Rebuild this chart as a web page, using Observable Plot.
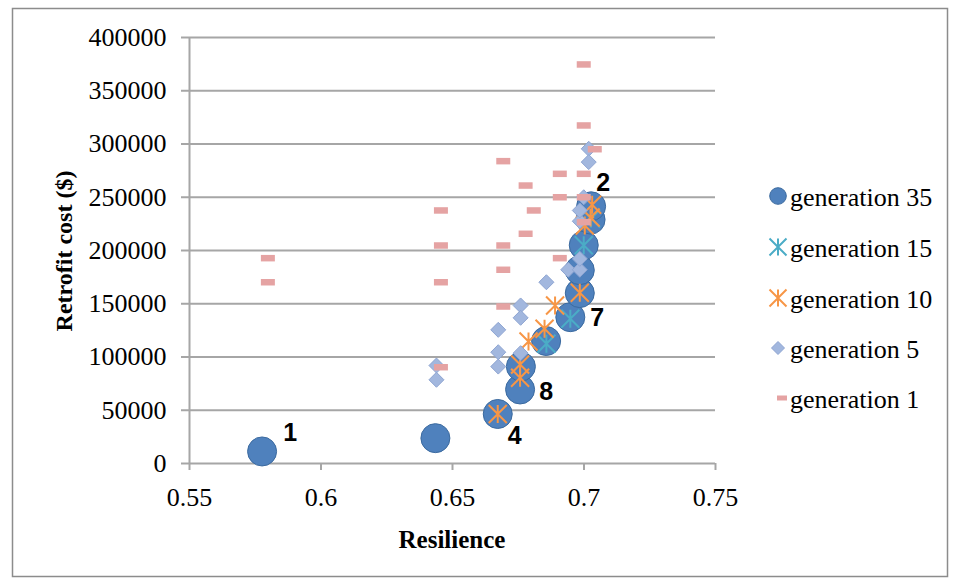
<!DOCTYPE html>
<html>
<head>
<meta charset="utf-8">
<script src="https://cdn.jsdelivr.net/npm/d3@7"></script>
<script src="https://cdn.jsdelivr.net/npm/@observablehq/plot@0.6"></script>
<style>
  html, body { margin: 0; padding: 0; background: #fff; }
  #chart { width: 958px; height: 582px; }
</style>
</head>
<body>
<div id="chart"></div>
<script>
// ---- data ----
const seriesNames = ["generation 35", "generation 15", "generation 10", "generation 5", "generation 1"];

const g35x = [0.5776, 0.6435, 0.6672, 0.6757, 0.6760, 0.6856, 0.6948, 0.6984, 0.6984, 0.6999, 0.7025, 0.7027];
const g35y = [11300, 23800, 46500, 69500, 91000, 115000, 137400, 160000, 181500, 205000, 229000, 241500];

const g15x = [0.6857, 0.6948, 0.6999, 0.7027];
const g15y = [112400, 135900, 205000, 230000];

const g10x = [0.6672, 0.6757, 0.6757, 0.6789, 0.6850, 0.6890, 0.6984, 0.7003, 0.7025, 0.7031];
const g10y = [46500, 93000, 80500, 114500, 126500, 148400, 160300, 223500, 231000, 243000];

const g5x = [0.6439, 0.6439, 0.6674, 0.6674, 0.6674, 0.6759, 0.6759, 0.6759, 0.6857, 0.6940, 0.6984, 0.6984, 0.6984, 0.6984, 0.6999, 0.7018, 0.7018];
const g5y = [92000, 78600, 125500, 104500, 91000, 148400, 136800, 103600, 170200, 181900, 181900, 192200, 227500, 237600, 250000, 295500, 283000];

const g1x = [0.5798, 0.5798, 0.6456, 0.6456, 0.6456, 0.6456, 0.6693, 0.6693, 0.6693, 0.6693, 0.6778, 0.6778, 0.6809, 0.6908, 0.6908, 0.6908, 0.6999, 0.6999, 0.6999, 0.6999, 0.6999, 0.7041];
const g1y = [192800, 170200, 237600, 204700, 170200, 90400, 283900, 204700, 181900, 147400, 261000, 215700, 237600, 272000, 250000, 192800, 374700, 317400, 272000, 250000, 226600, 295100];

const pointLabels = ["1", "4", "8", "7", "2"];
const pointLabelIndex = [0, 2, 3, 6, 11]; // index into generation 35

const xTicks = [0.55, 0.6, 0.65, 0.7, 0.75];
const yTicks = [0, 50000, 100000, 150000, 200000, 250000, 300000, 350000, 400000];

// ---- styles ----
const C35 = "#4F81BD", C35s = "#3B6A9F";
const C15 = "#4BACC6";
const C10 = "#F79646";
const C5 = "#A2B7DE", C5s = "#8EA5D2";
const C1 = "#E5A3A3";
const GRID = "#A6A6A6";

const zip = (xs, ys) => xs.map((x, i) => ({x, y: ys[i]}));
const d35 = zip(g35x, g35y), d15 = zip(g15x, g15y), d10 = zip(g10x, g10y), d5 = zip(g5x, g5y), d1 = zip(g1x, g1y);

const starSym = (r) => ({draw(ctx) {
  ctx.moveTo(0, -r); ctx.lineTo(0, r);
  ctx.moveTo(-r, -r); ctx.lineTo(r, r);
  ctx.moveTo(-r, r); ctx.lineTo(r, -r);
}});
const diamondSym = (r) => ({draw(ctx) {
  ctx.moveTo(0, -r); ctx.lineTo(r, 0); ctx.lineTo(0, r); ctx.lineTo(-r, 0); ctx.closePath();
}});
const dashSym = (w, h) => ({draw(ctx) { ctx.rect(-w / 2, -h / 2, w, h); }});

const labelOffsets = [[28, -18], [17, 22], [26, 3], [27, 1], [12, -23]];

const labelMarks = pointLabels.map((t, k) =>
  Plot.text([d35[pointLabelIndex[k]]], {
    x: "x", y: "y", text: () => t,
    dx: labelOffsets[k][0], dy: labelOffsets[k][1],
    fontFamily: "Liberation Sans", fontWeight: "bold", fontSize: 25, fill: "black",
    textAnchor: "middle", lineAnchor: "middle"
  })
);

const svg = Plot.plot({
  width: 958,
  height: 582,
  marginLeft: 189,
  marginRight: 243,
  marginTop: 37,
  marginBottom: 119,
  style: {fontFamily: "Liberation Serif", background: "white", overflow: "visible"},
  x: {domain: [0.55, 0.75], axis: null},
  y: {domain: [0, 400000], axis: null},
  marks: [
    Plot.gridY(yTicks, {stroke: GRID, strokeOpacity: 1, strokeWidth: 2}),
    Plot.ruleX([0.55], {stroke: GRID, strokeWidth: 2}),
    Plot.axisY({ticks: yTicks, tickSize: 8, tickPadding: 15, stroke: GRID, strokeWidth: 2,
      tickFormat: d => String(d), fontSize: 26, fill: "black", label: null}),
    Plot.axisX({ticks: xTicks, tickSize: 7, tickPadding: 17, stroke: GRID, strokeWidth: 2,
      tickFormat: d => String(+d.toFixed(2)), fontSize: 26, fill: "black", label: null}),
    Plot.dot(d35, {x: "x", y: "y", r: 14.5, fill: C35, stroke: C35s, strokeWidth: 1}),
    Plot.dot(d15, {x: "x", y: "y", symbol: starSym(9), stroke: C15, strokeWidth: 2, fill: "none"}),
    Plot.dot(d10, {x: "x", y: "y", symbol: starSym(9), stroke: C10, strokeWidth: 2, fill: "none"}),
    Plot.dot(d5, {x: "x", y: "y", symbol: diamondSym(7.5), fill: C5, stroke: C5s, strokeWidth: 1}),
    Plot.dot(d1, {x: "x", y: "y", symbol: dashSym(14, 6.5), fill: C1, stroke: "none"}),
    ...labelMarks
  ]
});

const s = d3.select(svg);

// outer chart border
s.append("rect").attr("x", 12.5).attr("y", 8.5).attr("width", 935).attr("height", 568)
  .attr("fill", "none").attr("stroke", "#8C8C8C").attr("stroke-width", 1.5);

// axis titles
s.append("text").attr("x", 452).attr("y", 539).attr("text-anchor", "middle")
  .attr("dominant-baseline", "central").attr("font-family", "Liberation Serif")
  .attr("font-weight", "bold").attr("font-size", 25).text("Resilience");
s.append("text").attr("transform", "translate(64,251) rotate(-90)").attr("text-anchor", "middle")
  .attr("dominant-baseline", "central").attr("font-family", "Liberation Serif")
  .attr("font-weight", "bold").attr("font-size", 24).text("Retrofit cost ($)");

// legend
const legRows = [196, 247, 298, 348, 398];
const leg = s.append("g");
const sym = [
  g => g.append("circle").attr("r", 8.3).attr("fill", C35).attr("stroke", C35s),
  g => g.append("path").attr("d", d3.symbol(starSym(8.5))()).attr("stroke", C15).attr("stroke-width", 2).attr("fill", "none"),
  g => g.append("path").attr("d", d3.symbol(starSym(8.5))()).attr("stroke", C10).attr("stroke-width", 2).attr("fill", "none"),
  g => g.append("path").attr("d", d3.symbol(diamondSym(6.5))()).attr("fill", C5).attr("stroke", C5s),
  g => g.append("path").attr("d", d3.symbol(dashSym(10, 5))()).attr("fill", C1)
];
seriesNames.forEach((name, i) => {
  const g = leg.append("g").attr("transform", `translate(${i === 4 ? 782 : 778},${legRows[i]})`);
  sym[i](g);
  leg.append("text").attr("x", 790).attr("y", legRows[i] + 1).attr("dominant-baseline", "central")
    .attr("text-anchor", "start")
    .attr("font-family", "Liberation Serif").attr("font-size", 26).attr("fill", "black").text(name);
});

document.getElementById("chart").appendChild(svg);
</script>
</body>
</html>
